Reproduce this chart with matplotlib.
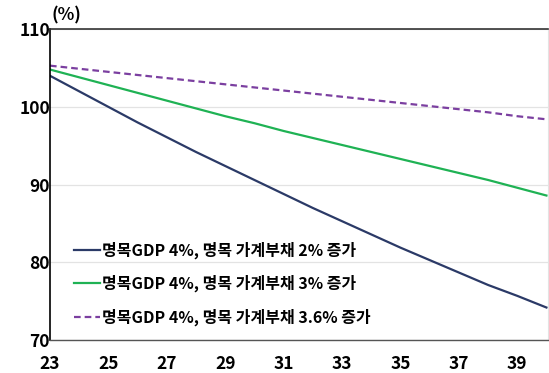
import matplotlib
matplotlib.use("Agg")
import matplotlib.pyplot as plt

plt.rcParams['font.family'] = ['Noto Sans CJK KR', 'DejaVu Sans']

# years (20xx) and debt ratio (%) for the three scenarios
years = list(range(23, 41))
debt_2pct = [104.0, 102.0, 100.0, 98.0, 96.1, 94.2, 92.4, 90.6, 88.8,
             87.0, 85.3, 83.6, 81.9, 80.3, 78.7, 77.1, 75.7, 74.2]
debt_3pct = [104.8, 103.8, 102.8, 101.8, 100.8, 99.8, 98.8, 97.9, 96.9,
             96.0, 95.1, 94.2, 93.3, 92.4, 91.5, 90.6, 89.6, 88.6]
debt_36pct = [105.3, 104.9, 104.5, 104.1, 103.7, 103.3, 102.9, 102.5, 102.1,
              101.7, 101.3, 100.9, 100.5, 100.1, 99.7, 99.3, 98.8, 98.4]

labels = ["명목GDP 4%, 명목 가계부채 2% 증가",
          "명목GDP 4%, 명목 가계부채 3% 증가",
          "명목GDP 4%, 명목 가계부채 3.6% 증가"]
xticks = [23, 25, 27, 29, 31, 33, 35, 37, 39]
yticks = [70, 80, 90, 100, 110]

fig = plt.figure(figsize=(5.49, 3.73), dpi=100)
ax = fig.add_axes([0.091, 0.088, 0.907, 0.834])

ax.plot(years, debt_2pct, color='#2b3a67', lw=1.6, label=labels[0])
ax.plot(years, debt_3pct, color='#1fb254', lw=1.6, label=labels[1])
ax.plot(years, debt_36pct, color='#7b3fa0', lw=1.6, ls=(0, (3, 1.8)), label=labels[2])

ax.set_xlim(23, 40.05)
ax.set_ylim(70, 110)
ax.set_xticks(xticks)
ax.set_yticks(yticks)
ax.tick_params(length=0)
ax.tick_params(axis='x', pad=10.5)
ax.tick_params(axis='y', pad=0)
for t in ax.get_xticklabels() + ax.get_yticklabels():
    t.set_fontsize(12.5)
    t.set_fontweight('bold')

ax.grid(axis='y', color='#e3e3e3', lw=0.9)
ax.set_axisbelow(True)
ax.spines['left'].set_color('black')
ax.spines['left'].set_linewidth(1.2)
ax.spines['top'].set_color('#333333')
ax.spines['top'].set_linewidth(1.2)
ax.spines['bottom'].set_color('#555555')
ax.spines['bottom'].set_linewidth(1.0)
ax.spines['right'].set_color('#e3e3e3')
ax.spines['right'].set_linewidth(0.8)

fig.text(0.094, 0.935, "(%)", fontsize=12.5, fontweight='bold', ha='left', va='bottom')

leg = ax.legend(loc='lower left', bbox_to_anchor=(0.02, 0.0), frameon=False,
                handlelength=1.6, handletextpad=0.15, labelspacing=1.0,
                prop={'size': 11.5, 'weight': 'bold'})

fig.savefig("out.png", dpi=100)
